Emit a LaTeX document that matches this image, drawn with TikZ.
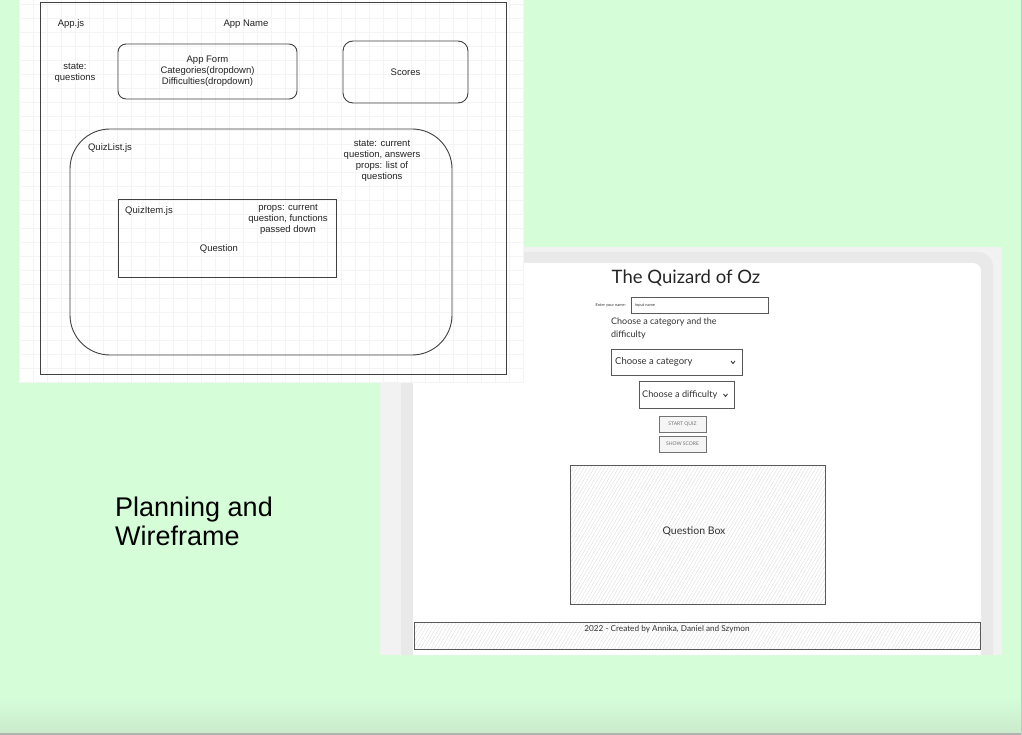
\documentclass[tikz,border=0pt]{standalone}
\usepackage{fontspec}
\setmainfont{Liberation Sans}
\newfontfamily\wf{Lato}
\usetikzlibrary{patterns.meta}
\definecolor{bggreen}{HTML}{D5FDD8}
\definecolor{bggreen2}{HTML}{CAEBCC}
\definecolor{wfout}{HTML}{F2F2F2}
\definecolor{wfmid}{HTML}{E9E9E9}
\definecolor{gridc}{HTML}{F4F4F4}
\definecolor{ink}{HTML}{222222}
\definecolor{wfink}{HTML}{333333}
\tikzset{
  dtext/.style={font=\fontsize{9.5}{11}\selectfont, align=center, inner sep=0pt, text=ink},
  dbox/.style={draw=black!75, line width=0.9pt, inner sep=0pt},
  wfbox/.style={draw=black!65, line width=0.8pt, fill=white, inner sep=0pt},
  wfbtn/.style={draw=black!55, line width=0.8pt, fill=black!4, inner sep=0pt,
    minimum width=47pt, minimum height=16pt, font=\wf\fontsize{5}{6}\selectfont, text=black!55},
  hatchbox/.style={draw=black!65, line width=0.8pt, inner sep=0pt,
    pattern={Lines[angle=60,distance=3pt,line width=0.3pt]}, pattern color=black!15},
  wftext/.style={font=\wf, text=wfink, inner sep=0pt},
  bigtext/.style={font=\fontsize{27}{29}\selectfont, text=black, inner sep=0pt, anchor=base west}
}
\begin{document}
\begin{tikzpicture}[x=1pt,y=-1pt]
\useasboundingbox (0,0) rectangle (1022,735);
% background
\fill[bggreen] (0,0) rectangle (1022,735);
\shade[top color=bggreen, bottom color=bggreen2] (0,698) rectangle (1022,733);
\fill[black!30] (0,733) rectangle (1022,735);
\fill[black!22] (1020.5,0) rectangle (1022,735);

% ---------- wireframe screenshot ----------
\fill[wfout] (380,247) rectangle (1002,655);
\fill[wfmid] (401,655) -- (401,252) -- (978,252) arc[start angle=-90,end angle=0,radius=15] -- (993,655) -- cycle;
\fill[white] (413,655) -- (413,263) -- (973,263) arc[start angle=-90,end angle=0,radius=8] -- (981,655) -- cycle;

\node[wftext, font=\wf\fontsize{18.5}{20}\selectfont, text=black!85] (title) at (686,278) {The Quizard of Oz};
\node[wftext, font=\wf\fontsize{4}{5}\selectfont, anchor=east] (namelbl) at (626,305) {Enter your name:};
\node[wfbox, minimum width=137pt, minimum height=16pt] (namein) at (699.5,305) {};
\node[wftext, font=\wf\fontsize{4}{5}\selectfont, anchor=west] (nameph) at (635,305) {input name};
\node[wftext, font=\wf\fontsize{9}{13}\selectfont, align=left, anchor=north west] (choose) at (611,318) {Choose a category and the\\difficulty};

\node[wfbox, minimum width=131pt, minimum height=26pt] (catdd) at (676.5,362) {};
\node[wftext, font=\wf\fontsize{9.5}{12}\selectfont, anchor=west] (cattxt) at (615,362) {Choose a category};
\draw[black!75, line width=0.9pt] (731,361) -- (733,363.5) -- (735,361);

\node[wfbox, minimum width=95pt, minimum height=27pt] (difdd) at (686.5,394.5) {};
\node[wftext, font=\wf\fontsize{9.2}{12}\selectfont, anchor=west] (diftxt) at (642,394.5) {Choose a difficulty};
\draw[black!75, line width=0.9pt] (723.5,394) -- (725.5,396.5) -- (727.5,394);

\node[wfbtn] (startbtn) at (682.5,424) {START QUIZ};
\node[wfbtn] (scorebtn) at (682.5,444) {SHOW SCORE};

\node[hatchbox, minimum width=255pt, minimum height=139pt] (qbox) at (697.5,534.5) {};
\node[wftext, font=\wf\fontsize{10.5}{12}\selectfont] (qboxtxt) at (694,531) {Question Box};

\node[hatchbox, minimum width=566pt, minimum height=27pt] (footer) at (697,635.5) {};
\node[wftext, font=\wf\fontsize{8.2}{9}\selectfont] (foottxt) at (667,629) {2022 - Created by Annika, Daniel and Szymon};

% ---------- planning diagram ----------
\fill[white] (19,0) rectangle (523,382);
\foreach \gx in {19,33,...,523} \draw[gridc, line width=0.5pt] (\gx,0) -- (\gx,382);
\foreach \gy in {4,18,...,382} \draw[gridc, line width=0.5pt] (19,\gy) -- (523,\gy);

\node[dbox, minimum width=465.5pt, minimum height=372pt] (app) at (273.25,188) {};
\node[dtext] (appjs) at (71,24) {App.js};
\node[dtext] (appname) at (246,24) {App Name};
\node[dtext] (appstate) at (75,73) {state:\\questions};
\node[dbox, rounded corners=8pt, minimum width=179pt, minimum height=55pt, dtext] (appform) at (207.5,71.5) {App Form\\Categories(dropdown)\\Difficulties(dropdown)};
\node[dbox, rounded corners=10pt, minimum width=125pt, minimum height=62pt, dtext] (scores) at (405.5,72) {Scores};

\node[dbox, rounded corners=40pt, minimum width=382pt, minimum height=226pt] (quizlist) at (261,242) {};
\node[dtext] (quizlistjs) at (110,148) {QuizList.js};
\node[dtext] (qlstate) at (382,161) {state: current\\question, answers\\props: list of\\questions};

\node[dbox, minimum width=218pt, minimum height=78pt] (quizitem) at (227,238) {};
\node[dtext] (quizitemjs) at (149,211) {QuizItem.js};
\node[dtext] (qiprops) at (288,219) {props: current\\question, functions\\passed down};
\node[dtext] (question) at (219,249) {Question};

% ---------- caption ----------
\node[bigtext] (cap1) at (115,516) {Planning and};
\node[bigtext] (cap2) at (115,545) {Wireframe};
\end{tikzpicture}
\end{document}
